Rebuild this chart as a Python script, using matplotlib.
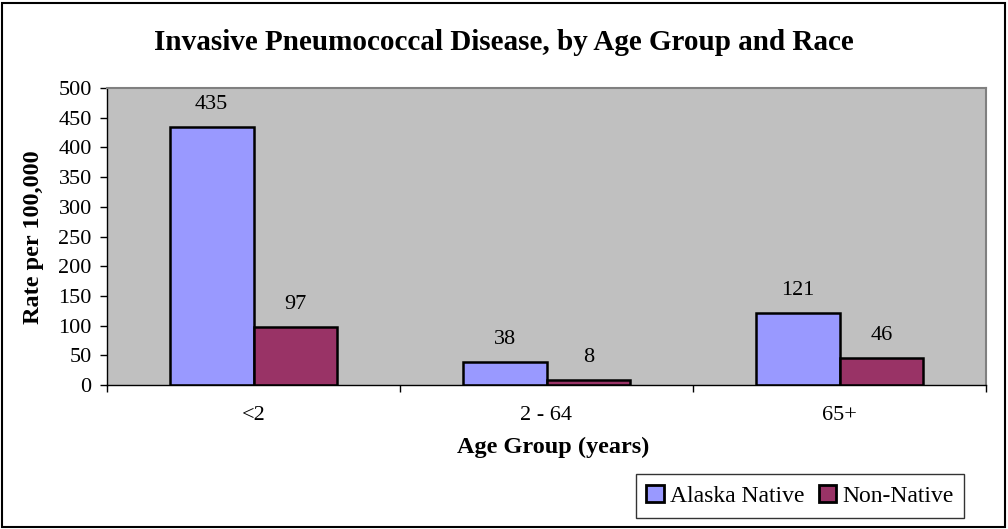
import numpy as np
import matplotlib.pyplot as plt
from matplotlib.patches import Rectangle

# Data
groups = ["<2", "2 - 64", "65+"]
alaska_native = [435, 38, 121]
non_native = [97, 8, 46]
series_names = ["Alaska Native", "Non-Native"]
colors = ["#9999FF", "#993366"]

plt.rcParams['font.family'] = ['Liberation Serif', 'DejaVu Serif']

fig = plt.figure(figsize=(10.08, 5.29), dpi=100)
W, H = 1008, 529
# plot area in pixel coords: left 107, right 986, top 88, bottom 385
ax = fig.add_axes([107 / W, 1 - 385 / H, (986 - 107) / W, (385 - 88) / H])
ax.set_facecolor("#C0C0C0")

# figure border
fig.patches.append(Rectangle((2 / W, 2 / H), 1 - 5 / W, 1 - 5 / H, transform=fig.transFigure,
                             fill=False, edgecolor="black", linewidth=1.5))

x = np.arange(len(groups))
bw = 1 / 3.5
b1 = ax.bar(x - bw / 2, alaska_native, bw, color=colors[0], edgecolor="black", linewidth=1.8,
            label=series_names[0])
b2 = ax.bar(x + bw / 2, non_native, bw, color=colors[1], edgecolor="black", linewidth=1.8,
            label=series_names[1])

# value labels above bars
for bars, vals in [(b1, alaska_native), (b2, non_native)]:
    for rect, v in zip(bars, vals):
        ax.annotate(str(v), (rect.get_x() + rect.get_width() / 2, v), xytext=(0, 13),
                    textcoords="offset points", ha="center", va="baseline", fontsize=16)

ax.set_xlim(-0.5, 2.5)
ax.set_ylim(0, 500)
ax.set_yticks(range(0, 501, 50))
ax.tick_params(axis='y', labelsize=16, direction='out', length=5, width=1, pad=6)

# category labels in middle, ticks at boundaries
ax.set_xticks([-0.5, 0.5, 1.5, 2.5])
ax.set_xticklabels([])
ax.set_xticks(x, minor=True)
ax.set_xticklabels(groups, minor=True, fontsize=16)
ax.tick_params(axis='x', which='major', direction='out', length=5, width=1)
ax.tick_params(axis='x', which='minor', length=0, pad=15)

for s in ['top', 'right']:
    ax.spines[s].set_color("#808080")
    ax.spines[s].set_linewidth(1.5)
for s in ['left', 'bottom']:
    ax.spines[s].set_color("black")
    ax.spines[s].set_linewidth(1)

fig.text(553 / W, 1 - 453 / H, "Age Group (years)", ha="center", va="baseline",
         fontsize=17.5, fontweight='bold')
fig.text(34 / W, 1 - 237 / H, "Rate per 100,000", ha="center", va="center", rotation=90,
         fontsize=17.5, fontweight='bold')

fig.text(504 / W, 1 - 42 / H, "Invasive Pneumococcal Disease, by Age Group and Race",
         ha="center", va="center", fontsize=21, fontweight='bold')

leg = fig.legend(loc="center", bbox_to_anchor=(800 / W, 1 - 496 / H), ncol=2, fontsize=17,
                 frameon=True, fancybox=False, edgecolor="black", handlelength=0.75,
                 handleheight=0.75, handletextpad=0.25, columnspacing=0.6, borderpad=0.45)
leg.get_frame().set_linewidth(1)
for p in leg.get_patches():
    p.set_linewidth(2)

fig.savefig("out.png", dpi=100)
